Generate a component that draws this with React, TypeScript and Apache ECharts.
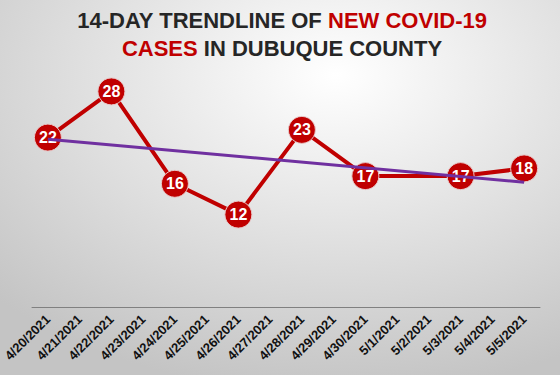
import React, { useEffect, useRef } from "react";
import * as echarts from "echarts";

const categories = [
  "4/20/2021", "4/21/2021", "4/22/2021", "4/23/2021", "4/24/2021", "4/25/2021",
  "4/26/2021", "4/27/2021", "4/28/2021", "4/29/2021", "4/30/2021", "5/1/2021",
  "5/2/2021", "5/3/2021", "5/4/2021", "5/5/2021",
];
const caseValues: (number | null)[] = [
  22, null, 28, null, 16, null, 12, null, 23, null, 17, null, null, 17, null, 18,
];
const trendValues: (number | null)[] = [
  21.8, null, null, null, null, null, null, null, null, null, null, null, null, null, null, 16.2,
];

export default function App() {
  const ref = useRef<HTMLDivElement>(null);
  useEffect(() => {
    if (!ref.current) return;
    const chart = echarts.init(ref.current, undefined, { renderer: "svg" });
    chart.setOption({
      animation: false,
      backgroundColor: {
        type: "radial",
        x: 0.6,
        y: 0.2,
        r: 0.85,
        colorStops: [
          { offset: 0, color: "#ffffff" },
          { offset: 1, color: "#c4c4c4" },
        ],
      },
      title: {
        left: 277,
        textAlign: "center",
        top: 1,
        text: "{d|14-DAY TRENDLINE OF }{r|NEW COVID-19}\n{r|CASES}{d| IN DUBUQUE COUNTY}",
        textStyle: {
          rich: {
            d: { color: "#262626", fontSize: 22, fontWeight: "bold", fontFamily: "Liberation Sans", lineHeight: 28 },
            r: { color: "#C00000", fontSize: 22, fontWeight: "bold", fontFamily: "Liberation Sans", lineHeight: 28 },
          },
        },
      },
      grid: { left: 32, right: 20, top: 76, bottom: 68 },
      xAxis: {
        type: "category",
        data: categories,
        boundaryGap: true,
        axisLine: { lineStyle: { color: "#808080", width: 1 } },
        axisTick: { length: 4, lineStyle: { color: "#808080" } },
        axisLabel: {
          interval: 0,
          rotate: 45,
          margin: 10,
          fontSize: 13,
          fontWeight: "bold",
          fontFamily: "Liberation Sans",
          color: "#111111",
        },
      },
      yAxis: {
        type: "value",
        min: 0,
        max: 30,
        show: false,
      },
      series: [
        {
          type: "line",
          data: caseValues,
          connectNulls: true,
          z: 2,
          lineStyle: { color: "#C00000", width: 4 },
          symbol: "circle",
          symbolSize: 27,
          itemStyle: { color: "#C00000", borderColor: "#e8c8c8", borderWidth: 1 },
          label: {
            show: true,
            position: "inside",
            color: "#ffffff",
            fontSize: 16,
            fontWeight: "bold",
            fontFamily: "Liberation Sans",
          },
        },
        {
          type: "line",
          data: trendValues,
          connectNulls: true,
          z: 3,
          symbol: "none",
          lineStyle: { color: "#7030A0", width: 3 },
        },
      ],
    });
    return () => chart.dispose();
  }, []);
  return <div ref={ref} style={{ width: 560, height: 375, position: "absolute", left: 0, top: 0 }} />;
}
